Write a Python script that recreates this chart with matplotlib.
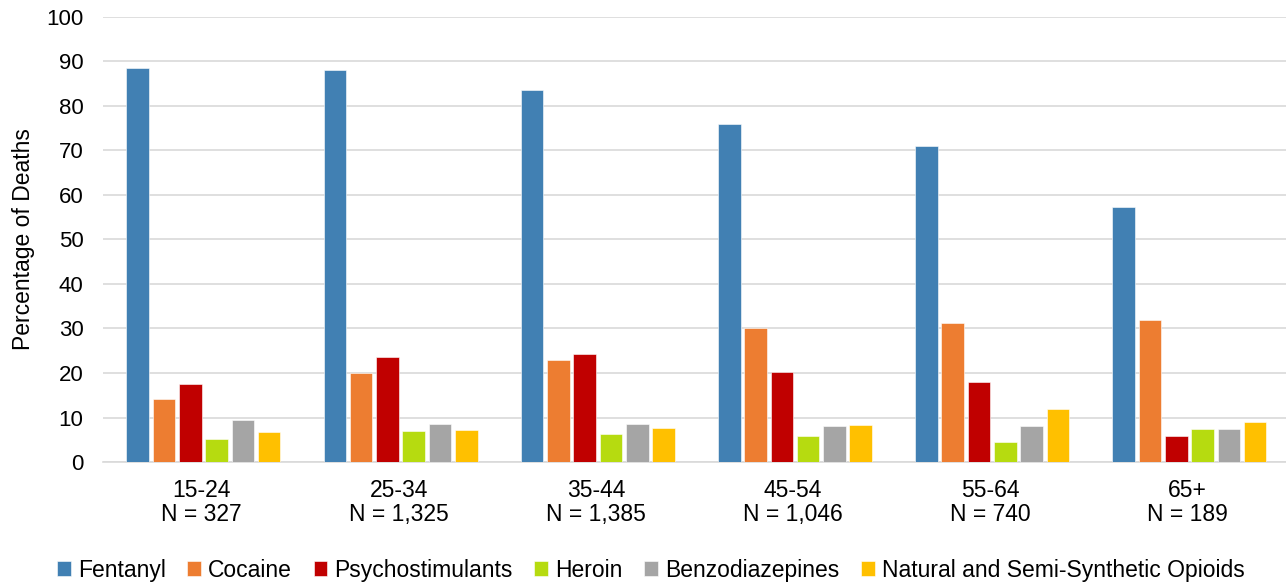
import matplotlib
matplotlib.use("Agg")
import matplotlib.pyplot as plt
import numpy as np

plt.rcParams['font.family'] = ['Liberation Sans', 'DejaVu Sans']

age_groups = ["15-24", "25-34", "35-44", "45-54", "55-64", "65+"]
n_labels = ["N = 327", "N = 1,325", "N = 1,385", "N = 1,046", "N = 740", "N = 189"]
series_names = ["Fentanyl", "Cocaine", "Psychostimulants", "Heroin",
                "Benzodiazepines", "Natural and Semi-Synthetic Opioids"]
fentanyl = [88.5, 88.1, 83.5, 76.0, 71.0, 57.2]
cocaine = [14.1, 19.9, 22.9, 30.1, 31.2, 31.8]
psychostimulants = [17.5, 23.7, 24.2, 20.3, 18.0, 5.8]
heroin = [5.2, 7.0, 6.4, 5.9, 4.6, 7.4]
benzodiazepines = [9.5, 8.5, 8.6, 8.0, 8.1, 7.4]
natural_semi = [6.8, 7.1, 7.7, 8.4, 11.9, 9.0]
values = [fentanyl, cocaine, psychostimulants, heroin, benzodiazepines, natural_semi]
colors = ["#4180B3", "#ED7D31", "#C00000", "#B6DB10", "#A5A5A5", "#FFC000"]

fig = plt.figure(figsize=(12.86, 5.83), dpi=100)
ax = fig.add_axes([0.080, 0.2075, 0.920, 0.7635])

x = np.arange(len(age_groups))
slot = 0.8 / 6
for i, (name, vals, c) in enumerate(zip(series_names, values, colors)):
    ax.bar(x - 0.39 + slot * (i + 0.5), vals, width=slot * 0.86, color=c,
           label=name, zorder=3, edgecolor='white', linewidth=0.4)

ax.set_xlim(-0.5, len(age_groups) - 0.5)
ax.set_ylim(0, 100)
ax.set_yticks(np.arange(0, 101, 10))
ax.yaxis.grid(True, color='#D9D9D9', linewidth=1.2, zorder=0)
ax.set_axisbelow(True)
for s in ['top', 'right', 'left']:
    ax.spines[s].set_visible(False)
ax.spines['bottom'].set_color('#D9D9D9')
ax.spines['bottom'].set_linewidth(1.2)
ax.tick_params(axis='y', length=0, labelsize=16, pad=14, colors='black')
ax.tick_params(axis='x', length=0, labelsize=16.5, pad=12)
ax.set_xticks(x)
ax.set_xticklabels([f"{a}\n{n}" for a, n in zip(age_groups, n_labels)], linespacing=1.1)
ax.set_ylabel("Percentage of Deaths", fontsize=16.5, labelpad=8)

fig.legend(loc='center', ncol=6, frameon=False, fontsize=16.5,
           handlelength=0.6, handleheight=0.6, handletextpad=0.3,
           columnspacing=0.95, bbox_to_anchor=(0.506, 0.022), borderpad=0)

fig.savefig("out.png", dpi=100)
